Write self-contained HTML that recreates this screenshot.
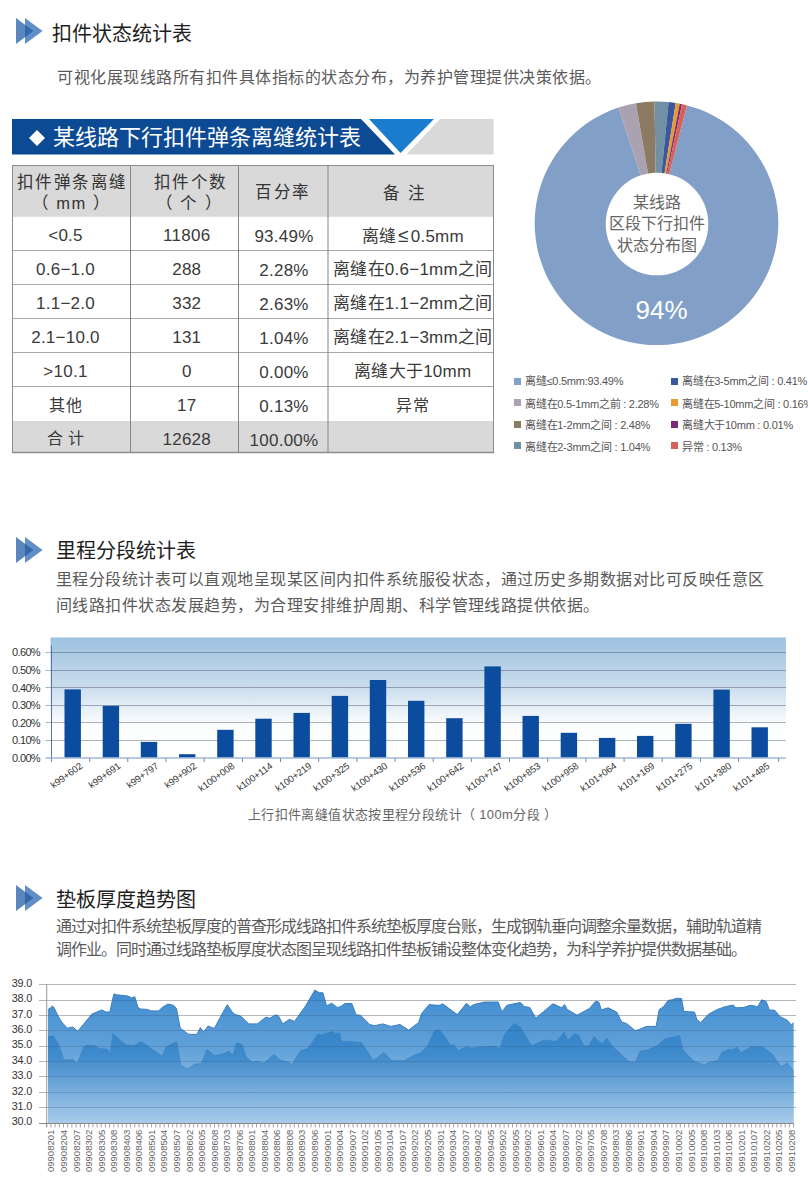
<!DOCTYPE html>
<html lang="zh-CN"><head><meta charset="utf-8">
<style>
html,body{margin:0;padding:0;background:#fff;width:808px;height:1200px;overflow:hidden;position:relative}
body{font-family:"Liberation Sans", sans-serif}
.t{position:absolute;white-space:nowrap;line-height:1.2}
.c{position:absolute;white-space:nowrap;text-align:center}
svg{display:block}
</style></head><body>
<svg style="position:absolute;left:16px;top:18px" width="30" height="28" viewBox="0 0 30 28">
<path d="M0 0 L17.3 13 L0 26 Z" fill="#5b87be"/>
<path d="M9 0 L26.6 13 L9 26 Z" fill="#5f8fc6"/>
<path d="M9 6.76 L17.3 13 L9 19.24 Z" fill="#2f68ab"/>
</svg>
<div class="t" style="left:52px;top:21.5px;font-size:20px;color:#1e1e1e">扣件状态统计表</div>
<div class="t" style="left:57px;top:68px;font-size:16px;color:#5a5a5a;letter-spacing:0.5px">可视化展现线路所有扣件具体指标的状态分布，为养护管理提供决策依据。</div>
<svg style="position:absolute;left:0;top:0" width="808" height="170">
<polygon points="12,119 361,119 395,154.5 12,154.5" fill="#0d4a94"/>
<polygon points="369,119 434,119 400.5,153" fill="#1a7ccc"/>
<polygon points="440,119 493.5,119 493.5,154.5 406.5,154.5" fill="#d9d9d9"/>
</svg>
<svg style="position:absolute;left:0;top:0" width="60" height="160"><polygon points="37,130 45,138 37,146 29,138" fill="#fff"/></svg>
<div class="t" style="left:53px;top:125px;font-size:22px;color:#fff">某线路下行扣件弹条离缝统计表</div>
<svg style="position:absolute;left:0;top:0" width="808" height="470">
<rect x="12" y="165" width="482" height="51.8" fill="#d9d9d9"/>
<rect x="12" y="421" width="482" height="32" fill="#d9d9d9"/>
<line x1="12" x2="494" y1="250.5" y2="250.5" stroke="#a8a8a8" stroke-width="1"/>
<line x1="12" x2="494" y1="284.5" y2="284.5" stroke="#a8a8a8" stroke-width="1"/>
<line x1="12" x2="494" y1="318.5" y2="318.5" stroke="#a8a8a8" stroke-width="1"/>
<line x1="12" x2="494" y1="352.5" y2="352.5" stroke="#a8a8a8" stroke-width="1"/>
<line x1="12" x2="494" y1="386.5" y2="386.5" stroke="#a8a8a8" stroke-width="1"/>
<line x1="130.5" x2="130.5" y1="165" y2="453" stroke="#858585" stroke-width="1"/>
<line x1="238.5" x2="238.5" y1="165" y2="453" stroke="#858585" stroke-width="1"/>
<line x1="328" x2="328" y1="165" y2="453" stroke="#858585" stroke-width="1"/>
<rect x="12.5" y="165.5" width="481" height="287" fill="none" stroke="#8c8c8c" stroke-width="1"/>
<line x1="12" x2="494" y1="452.5" y2="452.5" stroke="#8c8c8c" stroke-width="1.5"/>
</svg>
<div class="c" style="left:12px;width:119px;top:172px;font-size:16.5px;line-height:21px;color:#333;letter-spacing:1.5px;text-indent:1.5px;line-height:20.5px">扣件弹条离缝<br>（ mm ）</div>
<div class="c" style="left:136px;width:107.5px;top:172px;font-size:16.5px;line-height:21px;color:#333;letter-spacing:1.5px;text-indent:1.5px;line-height:20.5px">扣件个数<br>（ 个 ）</div>
<div class="c" style="left:237.5px;width:89.0px;top:181.5px;font-size:16.5px;line-height:21px;color:#333;letter-spacing:1.5px;text-indent:1.5px">百分率</div>
<div class="c" style="left:320.5px;width:166.5px;top:182.5px;font-size:16.5px;line-height:21px;color:#333;letter-spacing:1.5px;text-indent:1.5px">备 注</div>
<div class="c" style="left:6px;width:119px;top:225.0px;font-size:17px;line-height:22px;color:#3a3a3a;letter-spacing:0.25px;">&lt;0.5</div>
<div class="c" style="left:133px;width:107.5px;top:225.0px;font-size:17px;line-height:22px;color:#3a3a3a;letter-spacing:0.25px;">11806</div>
<div class="c" style="left:239.5px;width:89.0px;top:225.5px;font-size:17px;line-height:22px;color:#3a3a3a;letter-spacing:0.25px;">93.49%</div>
<div class="c" style="left:329.5px;width:166.5px;top:225.0px;font-size:17px;line-height:22px;color:#3a3a3a;letter-spacing:0.25px;">离缝<span style="margin:0 2px;font-size:19px">≤</span>0.5mm</div>
<div class="c" style="left:6px;width:119px;top:259.0px;font-size:17px;line-height:22px;color:#3a3a3a;letter-spacing:0.25px;">0.6−1.0</div>
<div class="c" style="left:133px;width:107.5px;top:259.0px;font-size:17px;line-height:22px;color:#3a3a3a;letter-spacing:0.25px;">288</div>
<div class="c" style="left:239.5px;width:89.0px;top:259.5px;font-size:17px;line-height:22px;color:#3a3a3a;letter-spacing:0.25px;">2.28%</div>
<div class="c" style="left:329.5px;width:166.5px;top:259.0px;font-size:17px;line-height:22px;color:#3a3a3a;letter-spacing:0.25px;">离缝在0.6−1mm之间</div>
<div class="c" style="left:6px;width:119px;top:293.0px;font-size:17px;line-height:22px;color:#3a3a3a;letter-spacing:0.25px;">1.1−2.0</div>
<div class="c" style="left:133px;width:107.5px;top:293.0px;font-size:17px;line-height:22px;color:#3a3a3a;letter-spacing:0.25px;">332</div>
<div class="c" style="left:239.5px;width:89.0px;top:293.5px;font-size:17px;line-height:22px;color:#3a3a3a;letter-spacing:0.25px;">2.63%</div>
<div class="c" style="left:329.5px;width:166.5px;top:293.0px;font-size:17px;line-height:22px;color:#3a3a3a;letter-spacing:0.25px;">离缝在1.1−2mm之间</div>
<div class="c" style="left:6px;width:119px;top:327.0px;font-size:17px;line-height:22px;color:#3a3a3a;letter-spacing:0.25px;">2.1−10.0</div>
<div class="c" style="left:133px;width:107.5px;top:327.0px;font-size:17px;line-height:22px;color:#3a3a3a;letter-spacing:0.25px;">131</div>
<div class="c" style="left:239.5px;width:89.0px;top:327.5px;font-size:17px;line-height:22px;color:#3a3a3a;letter-spacing:0.25px;">1.04%</div>
<div class="c" style="left:329.5px;width:166.5px;top:327.0px;font-size:17px;line-height:22px;color:#3a3a3a;letter-spacing:0.25px;">离缝在2.1−3mm之间</div>
<div class="c" style="left:6px;width:119px;top:361.0px;font-size:17px;line-height:22px;color:#3a3a3a;letter-spacing:0.25px;">&gt;10.1</div>
<div class="c" style="left:133px;width:107.5px;top:361.0px;font-size:17px;line-height:22px;color:#3a3a3a;letter-spacing:0.25px;">0</div>
<div class="c" style="left:239.5px;width:89.0px;top:361.5px;font-size:17px;line-height:22px;color:#3a3a3a;letter-spacing:0.25px;">0.00%</div>
<div class="c" style="left:329.5px;width:166.5px;top:361.0px;font-size:17px;line-height:22px;color:#3a3a3a;letter-spacing:0.25px;">离缝大于10mm</div>
<div class="c" style="left:6px;width:119px;top:395.0px;font-size:17px;line-height:22px;color:#3a3a3a;letter-spacing:0.25px;letter-spacing:1.2px;text-indent:1.2px;font-size:16px;">其他</div>
<div class="c" style="left:133px;width:107.5px;top:395.0px;font-size:17px;line-height:22px;color:#3a3a3a;letter-spacing:0.25px;">17</div>
<div class="c" style="left:239.5px;width:89.0px;top:395.5px;font-size:17px;line-height:22px;color:#3a3a3a;letter-spacing:0.25px;">0.13%</div>
<div class="c" style="left:329.5px;width:166.5px;top:395.0px;font-size:17px;line-height:22px;color:#3a3a3a;letter-spacing:0.25px;letter-spacing:1.2px;text-indent:1.2px;font-size:16px;">异常</div>
<div class="c" style="left:6px;width:119px;top:429.0px;font-size:17px;line-height:22px;color:#3a3a3a;letter-spacing:0.25px;letter-spacing:4.5px;text-indent:4.5px;font-size:16px;margin-top:-1px;">合计</div>
<div class="c" style="left:133px;width:107.5px;top:429.0px;font-size:17px;line-height:22px;color:#3a3a3a;letter-spacing:0.25px;">12628</div>
<div class="c" style="left:239.5px;width:89.0px;top:429.5px;font-size:17px;line-height:22px;color:#3a3a3a;letter-spacing:0.25px;">100.00%</div>
<div class="c" style="left:329.5px;width:166.5px;top:429.0px;font-size:17px;line-height:22px;color:#3a3a3a;letter-spacing:0.25px;"></div>
<svg style="position:absolute;left:0;top:0" width="808" height="360">
<path d="M656.5 223.3 L687.00 105.38 A121.8 121.8 0 1 1 618.46 107.59 Z" fill="#829fc7"/>
<path d="M656.5 223.3 L618.46 107.59 A121.8 121.8 0 0 1 635.98 103.24 Z" fill="#aaa1b1"/>
<path d="M656.5 223.3 L635.98 103.24 A121.8 121.8 0 0 1 654.48 101.52 Z" fill="#8c7b62"/>
<path d="M656.5 223.3 L654.48 101.52 A121.8 121.8 0 0 1 668.60 102.10 Z" fill="#7290a4"/>
<path d="M656.5 223.3 L668.60 102.10 A121.8 121.8 0 0 1 675.76 103.03 Z" fill="#3b589f"/>
<path d="M656.5 223.3 L675.76 103.03 A121.8 121.8 0 0 1 679.74 103.74 Z" fill="#e89b2e"/>
<path d="M656.5 223.3 L679.74 103.74 A121.8 121.8 0 0 1 682.03 104.21 Z" fill="#782c78"/>
<path d="M656.5 223.3 L682.03 104.21 A121.8 121.8 0 0 1 687.00 105.38 Z" fill="#d6615b"/>
<circle cx="657" cy="224" r="51.3" fill="#fff"/>
</svg>
<div class="c" style="left:596.5px;width:120px;top:191.5px;font-size:16px;line-height:21.6px;color:#656565">某线路<br>区段下行扣件<br>状态分布图</div>
<div class="c" style="left:601.5px;width:120px;top:294.5px;font-size:26px;line-height:30px;color:#fff">94%</div>
<div style="position:absolute;left:514px;top:378px;width:7px;height:7px;background:#829fc7"></div>
<div class="t" style="left:525px;top:373px;font-size:11px;line-height:16px;color:#555;letter-spacing:-0.25px">离缝≤0.5mm:93.49%</div>
<div style="position:absolute;left:514px;top:399px;width:7px;height:7px;background:#aaa1b1"></div>
<div class="t" style="left:525px;top:396px;font-size:11px;line-height:16px;color:#555;letter-spacing:-0.25px">离缝在0.5-1mm之前 : 2.28%</div>
<div style="position:absolute;left:514px;top:420.5px;width:7px;height:7px;background:#8c7b62"></div>
<div class="t" style="left:525px;top:417.0px;font-size:11px;line-height:16px;color:#555;letter-spacing:-0.25px">离缝在1-2mm之间 : 2.48%</div>
<div style="position:absolute;left:514px;top:442px;width:7px;height:7px;background:#7290a4"></div>
<div class="t" style="left:525px;top:439px;font-size:11px;line-height:16px;color:#555;letter-spacing:-0.25px">离缝在2-3mm之间 : 1.04%</div>
<div style="position:absolute;left:671px;top:378px;width:7px;height:7px;background:#3b589f"></div>
<div class="t" style="left:682px;top:373px;font-size:11px;line-height:16px;color:#555;letter-spacing:-0.25px">离缝在3-5mm之间 : 0.41%</div>
<div style="position:absolute;left:671px;top:399px;width:7px;height:7px;background:#e89b2e"></div>
<div class="t" style="left:682px;top:396px;font-size:11px;line-height:16px;color:#555;letter-spacing:-0.25px">离缝在5-10mm之间 : 0.16%</div>
<div style="position:absolute;left:671px;top:420.5px;width:7px;height:7px;background:#782c78"></div>
<div class="t" style="left:682px;top:417.0px;font-size:11px;line-height:16px;color:#555;letter-spacing:-0.25px">离缝大于10mm : 0.01%</div>
<div style="position:absolute;left:671px;top:442px;width:7px;height:7px;background:#d6615b"></div>
<div class="t" style="left:682px;top:439px;font-size:11px;line-height:16px;color:#555;letter-spacing:-0.25px">异常 : 0.13%</div>
<svg style="position:absolute;left:16px;top:536.5px" width="30" height="28" viewBox="0 0 30 28">
<path d="M0 0 L17.3 13 L0 26 Z" fill="#5b87be"/>
<path d="M9 0 L26.6 13 L9 26 Z" fill="#5f8fc6"/>
<path d="M9 6.76 L17.3 13 L9 19.24 Z" fill="#2f68ab"/>
</svg>
<div class="t" style="left:56px;top:539px;font-size:20px;color:#1e1e1e">里程分段统计表</div>
<div class="t" style="left:56px;top:566.5px;font-size:16px;line-height:26px;color:#5a5a5a;letter-spacing:0.48px">里程分段统计表可以直观地呈现某区间内扣件系统服役状态，通过历史多期数据对比可反映任意区<br>间线路扣件状态发展趋势，为合理安排维护周期、科学管理线路提供依据。</div>
<svg style="position:absolute;left:0;top:600px" width="808" height="240" viewBox="0 600 808 240">
<defs><linearGradient id="bg" x1="0" y1="0" x2="0" y2="1"><stop offset="0" stop-color="#9cc2e0"/><stop offset="0.4" stop-color="#c9dcec"/><stop offset="0.72" stop-color="#fbfdfe"/><stop offset="1" stop-color="#ffffff"/></linearGradient></defs>
<rect x="50.5" y="637.5" width="735.5" height="120.5" fill="url(#bg)"/>
<line x1="45.5" x2="786" y1="652.5" y2="652.5" stroke="rgb(55,65,85)" stroke-opacity="0.4" stroke-width="1"/>
<line x1="45.5" x2="786" y1="670.5" y2="670.5" stroke="rgb(55,65,85)" stroke-opacity="0.4" stroke-width="1"/>
<line x1="45.5" x2="786" y1="687.5" y2="687.5" stroke="rgb(55,65,85)" stroke-opacity="0.4" stroke-width="1"/>
<line x1="45.5" x2="786" y1="705.5" y2="705.5" stroke="rgb(55,65,85)" stroke-opacity="0.4" stroke-width="1"/>
<line x1="45.5" x2="786" y1="722.5" y2="722.5" stroke="rgb(55,65,85)" stroke-opacity="0.4" stroke-width="1"/>
<line x1="45.5" x2="786" y1="740.5" y2="740.5" stroke="rgb(55,65,85)" stroke-opacity="0.4" stroke-width="1"/>
<rect x="64.5" y="689.4" width="16.4" height="68.3" fill="#0b4c9f"/>
<rect x="102.7" y="705.8" width="16.4" height="51.9" fill="#0b4c9f"/>
<rect x="140.8" y="741.9" width="16.4" height="15.8" fill="#0b4c9f"/>
<rect x="179.0" y="754.2" width="16.4" height="3.5" fill="#0b4c9f"/>
<rect x="217.2" y="729.8" width="16.4" height="27.9" fill="#0b4c9f"/>
<rect x="255.3" y="718.7" width="16.4" height="39.0" fill="#0b4c9f"/>
<rect x="293.5" y="712.9" width="16.4" height="44.8" fill="#0b4c9f"/>
<rect x="331.7" y="695.9" width="16.4" height="61.8" fill="#0b4c9f"/>
<rect x="369.8" y="680.0" width="16.4" height="77.7" fill="#0b4c9f"/>
<rect x="408.0" y="700.8" width="16.4" height="56.9" fill="#0b4c9f"/>
<rect x="446.2" y="718.2" width="16.4" height="39.5" fill="#0b4c9f"/>
<rect x="484.4" y="666.4" width="16.4" height="91.3" fill="#0b4c9f"/>
<rect x="522.5" y="715.9" width="16.4" height="41.8" fill="#0b4c9f"/>
<rect x="560.7" y="732.8" width="16.4" height="24.9" fill="#0b4c9f"/>
<rect x="598.9" y="737.9" width="16.4" height="19.8" fill="#0b4c9f"/>
<rect x="637.0" y="735.9" width="16.4" height="21.8" fill="#0b4c9f"/>
<rect x="675.2" y="723.8" width="16.4" height="33.9" fill="#0b4c9f"/>
<rect x="713.4" y="689.6" width="16.4" height="68.1" fill="#0b4c9f"/>
<rect x="751.5" y="727.3" width="16.4" height="30.4" fill="#0b4c9f"/>
<line x1="51.5" x2="51.5" y1="645.5" y2="761" stroke="#5573b0" stroke-width="1"/>
<line x1="45.5" x2="786" y1="758" y2="758" stroke="#9fb8d6" stroke-width="1.3"/>
<line x1="51.5" x2="51.5" y1="758" y2="762" stroke="#7a8aa0" stroke-width="1"/>
<line x1="89.7" x2="89.7" y1="758" y2="762" stroke="#7a8aa0" stroke-width="1"/>
<line x1="127.8" x2="127.8" y1="758" y2="762" stroke="#7a8aa0" stroke-width="1"/>
<line x1="166.0" x2="166.0" y1="758" y2="762" stroke="#7a8aa0" stroke-width="1"/>
<line x1="204.2" x2="204.2" y1="758" y2="762" stroke="#7a8aa0" stroke-width="1"/>
<line x1="242.4" x2="242.4" y1="758" y2="762" stroke="#7a8aa0" stroke-width="1"/>
<line x1="280.5" x2="280.5" y1="758" y2="762" stroke="#7a8aa0" stroke-width="1"/>
<line x1="318.7" x2="318.7" y1="758" y2="762" stroke="#7a8aa0" stroke-width="1"/>
<line x1="356.9" x2="356.9" y1="758" y2="762" stroke="#7a8aa0" stroke-width="1"/>
<line x1="395.0" x2="395.0" y1="758" y2="762" stroke="#7a8aa0" stroke-width="1"/>
<line x1="433.2" x2="433.2" y1="758" y2="762" stroke="#7a8aa0" stroke-width="1"/>
<line x1="471.4" x2="471.4" y1="758" y2="762" stroke="#7a8aa0" stroke-width="1"/>
<line x1="509.5" x2="509.5" y1="758" y2="762" stroke="#7a8aa0" stroke-width="1"/>
<line x1="547.7" x2="547.7" y1="758" y2="762" stroke="#7a8aa0" stroke-width="1"/>
<line x1="585.9" x2="585.9" y1="758" y2="762" stroke="#7a8aa0" stroke-width="1"/>
<line x1="624.1" x2="624.1" y1="758" y2="762" stroke="#7a8aa0" stroke-width="1"/>
<line x1="662.2" x2="662.2" y1="758" y2="762" stroke="#7a8aa0" stroke-width="1"/>
<line x1="700.4" x2="700.4" y1="758" y2="762" stroke="#7a8aa0" stroke-width="1"/>
<line x1="738.6" x2="738.6" y1="758" y2="762" stroke="#7a8aa0" stroke-width="1"/>
<line x1="778.7" x2="778.7" y1="758" y2="762" stroke="#7a8aa0" stroke-width="1"/>
</svg>
<div class="t" style="left:0;width:40px;text-align:right;top:750.7px;font-size:11px;line-height:14px;color:#333;letter-spacing:-0.65px">0.00%</div>
<div class="t" style="left:0;width:40px;text-align:right;top:733.2px;font-size:11px;line-height:14px;color:#333;letter-spacing:-0.65px">0.10%</div>
<div class="t" style="left:0;width:40px;text-align:right;top:715.6px;font-size:11px;line-height:14px;color:#333;letter-spacing:-0.65px">0.20%</div>
<div class="t" style="left:0;width:40px;text-align:right;top:698.0px;font-size:11px;line-height:14px;color:#333;letter-spacing:-0.65px">0.30%</div>
<div class="t" style="left:0;width:40px;text-align:right;top:680.5px;font-size:11px;line-height:14px;color:#333;letter-spacing:-0.65px">0.40%</div>
<div class="t" style="left:0;width:40px;text-align:right;top:663.0px;font-size:11px;line-height:14px;color:#333;letter-spacing:-0.65px">0.50%</div>
<div class="t" style="left:0;width:40px;text-align:right;top:645.4px;font-size:11px;line-height:14px;color:#333;letter-spacing:-0.65px">0.60%</div>
<div class="t" style="left:-122.4px;width:200px;text-align:right;top:759.5px;font-size:9.5px;line-height:12px;color:#333;transform-origin:100% 0;transform:rotate(-36deg)">k99+602</div>
<div class="t" style="left:-84.2px;width:200px;text-align:right;top:759.5px;font-size:9.5px;line-height:12px;color:#333;transform-origin:100% 0;transform:rotate(-36deg)">k99+691</div>
<div class="t" style="left:-46.1px;width:200px;text-align:right;top:759.5px;font-size:9.5px;line-height:12px;color:#333;transform-origin:100% 0;transform:rotate(-36deg)">k99+797</div>
<div class="t" style="left:-7.9px;width:200px;text-align:right;top:759.5px;font-size:9.5px;line-height:12px;color:#333;transform-origin:100% 0;transform:rotate(-36deg)">k99+902</div>
<div class="t" style="left:30.3px;width:200px;text-align:right;top:759.5px;font-size:9.5px;line-height:12px;color:#333;transform-origin:100% 0;transform:rotate(-36deg)">k100+008</div>
<div class="t" style="left:68.4px;width:200px;text-align:right;top:759.5px;font-size:9.5px;line-height:12px;color:#333;transform-origin:100% 0;transform:rotate(-36deg)">k100+114</div>
<div class="t" style="left:106.6px;width:200px;text-align:right;top:759.5px;font-size:9.5px;line-height:12px;color:#333;transform-origin:100% 0;transform:rotate(-36deg)">k100+219</div>
<div class="t" style="left:144.8px;width:200px;text-align:right;top:759.5px;font-size:9.5px;line-height:12px;color:#333;transform-origin:100% 0;transform:rotate(-36deg)">k100+325</div>
<div class="t" style="left:182.9px;width:200px;text-align:right;top:759.5px;font-size:9.5px;line-height:12px;color:#333;transform-origin:100% 0;transform:rotate(-36deg)">k100+430</div>
<div class="t" style="left:221.1px;width:200px;text-align:right;top:759.5px;font-size:9.5px;line-height:12px;color:#333;transform-origin:100% 0;transform:rotate(-36deg)">k100+536</div>
<div class="t" style="left:259.3px;width:200px;text-align:right;top:759.5px;font-size:9.5px;line-height:12px;color:#333;transform-origin:100% 0;transform:rotate(-36deg)">k100+642</div>
<div class="t" style="left:297.5px;width:200px;text-align:right;top:759.5px;font-size:9.5px;line-height:12px;color:#333;transform-origin:100% 0;transform:rotate(-36deg)">k100+747</div>
<div class="t" style="left:335.6px;width:200px;text-align:right;top:759.5px;font-size:9.5px;line-height:12px;color:#333;transform-origin:100% 0;transform:rotate(-36deg)">k100+853</div>
<div class="t" style="left:373.8px;width:200px;text-align:right;top:759.5px;font-size:9.5px;line-height:12px;color:#333;transform-origin:100% 0;transform:rotate(-36deg)">k100+958</div>
<div class="t" style="left:412.0px;width:200px;text-align:right;top:759.5px;font-size:9.5px;line-height:12px;color:#333;transform-origin:100% 0;transform:rotate(-36deg)">k101+064</div>
<div class="t" style="left:450.1px;width:200px;text-align:right;top:759.5px;font-size:9.5px;line-height:12px;color:#333;transform-origin:100% 0;transform:rotate(-36deg)">k101+169</div>
<div class="t" style="left:488.3px;width:200px;text-align:right;top:759.5px;font-size:9.5px;line-height:12px;color:#333;transform-origin:100% 0;transform:rotate(-36deg)">k101+275</div>
<div class="t" style="left:526.5px;width:200px;text-align:right;top:759.5px;font-size:9.5px;line-height:12px;color:#333;transform-origin:100% 0;transform:rotate(-36deg)">k101+380</div>
<div class="t" style="left:564.6px;width:200px;text-align:right;top:759.5px;font-size:9.5px;line-height:12px;color:#333;transform-origin:100% 0;transform:rotate(-36deg)">k101+485</div>
<div class="t" style="left:248px;top:807px;font-size:13px;line-height:16px;color:#666;letter-spacing:0.37px">上行扣件离缝值状态按里程分段统计（ 100m分段 ）</div>
<svg style="position:absolute;left:16px;top:884.5px" width="30" height="28" viewBox="0 0 30 28">
<path d="M0 0 L17.3 13 L0 26 Z" fill="#5b87be"/>
<path d="M9 0 L26.6 13 L9 26 Z" fill="#5f8fc6"/>
<path d="M9 6.76 L17.3 13 L9 19.24 Z" fill="#2f68ab"/>
</svg>
<div class="t" style="left:56px;top:887.5px;font-size:20px;color:#1e1e1e">垫板厚度趋势图</div>
<div class="t" style="left:56px;top:915px;font-size:16px;line-height:23px;color:#5a5a5a;letter-spacing:-1px">通过对扣件系统垫板厚度的普查形成线路扣件系统垫板厚度台账，生成钢轨垂向调整余量数据，辅助轨道精<br>调作业。同时通过线路垫板厚度状态图呈现线路扣件垫板铺设整体变化趋势，为科学养护提供数据基础。</div>
<svg style="position:absolute;left:0;top:960px" width="808" height="240" viewBox="0 960 808 240">
<defs>
<linearGradient id="ga" gradientUnits="userSpaceOnUse" x1="0" y1="990" x2="0" y2="1123"><stop offset="0" stop-color="#3f8cd0"/><stop offset="0.45" stop-color="#62a2d9"/><stop offset="1" stop-color="#b3d2ec"/></linearGradient>
<linearGradient id="gb" gradientUnits="userSpaceOnUse" x1="0" y1="1020" x2="0" y2="1123"><stop offset="0" stop-color="#2f82c8"/><stop offset="0.35" stop-color="#3f8bcc"/><stop offset="1" stop-color="#a9cbea"/></linearGradient>
</defs>
<line x1="39" x2="796" y1="984.5" y2="984.5" stroke="#d6d6d6" stroke-width="1"/>
<line x1="39" x2="796" y1="1000.5" y2="1000.5" stroke="#d6d6d6" stroke-width="1"/>
<line x1="39" x2="796" y1="1015.5" y2="1015.5" stroke="#d6d6d6" stroke-width="1"/>
<line x1="39" x2="796" y1="1030.5" y2="1030.5" stroke="#d6d6d6" stroke-width="1"/>
<line x1="39" x2="796" y1="1046.5" y2="1046.5" stroke="#d6d6d6" stroke-width="1"/>
<line x1="39" x2="796" y1="1061.5" y2="1061.5" stroke="#d6d6d6" stroke-width="1"/>
<line x1="39" x2="796" y1="1076.5" y2="1076.5" stroke="#d6d6d6" stroke-width="1"/>
<line x1="39" x2="796" y1="1092.5" y2="1092.5" stroke="#d6d6d6" stroke-width="1"/>
<line x1="39" x2="796" y1="1107.5" y2="1107.5" stroke="#d6d6d6" stroke-width="1"/>
<path d="M48.0 1123 L48.0 1009.7 L52.4 1006.2 L53.6 1006.9 L58.6 1017.1 L61.7 1022.0 L67.2 1028.2 L72.8 1027.0 L77.7 1031.3 L83.3 1024.5 L92.0 1014.0 L101.9 1009.9 L106.2 1012.1 L109.9 1011.9 L111.8 1002.8 L114.0 993.8 L116.1 994.8 L127.9 996.0 L131.6 997.9 L134.7 996.7 L137.8 1006.6 L140.0 1009.0 L147.4 1009.4 L151.1 1010.9 L158.6 1010.9 L162.3 1007.4 L167.8 1004.1 L173.4 1005.3 L176.5 1008.4 L180.2 1028.2 L188.3 1034.2 L196.9 1034.4 L200.4 1027.6 L203.4 1032.2 L208.1 1026.0 L214.3 1028.5 L220.4 1017.1 L227.3 1004.7 L232.2 1012.1 L235.3 1014.6 L240.0 1015.8 L242.5 1017.7 L248.7 1023.9 L257.3 1023.9 L266.0 1017.1 L269.7 1018.3 L275.3 1014.9 L278.4 1015.8 L282.7 1023.9 L289.5 1019.3 L294.5 1021.4 L305.6 1005.9 L314.9 990.1 L319.2 992.7 L322.9 992.7 L326.6 1005.9 L331.6 1003.2 L337.2 1007.4 L340.0 1006.9 L345.0 1003.5 L351.8 1003.5 L356.1 1014.9 L360.4 1015.2 L369.7 1024.5 L374.7 1025.7 L382.7 1023.9 L390.7 1026.4 L400.0 1024.5 L408.7 1030.1 L418.6 1022.6 L421.7 1013.4 L429.1 1004.5 L434.1 1005.1 L440.0 1005.3 L442.5 1003.7 L457.3 1014.6 L466.6 1003.2 L470.3 1006.9 L473.4 1004.7 L484.6 1002.0 L498.2 1002.0 L501.9 1011.9 L506.8 1005.3 L520.4 1002.5 L524.2 1006.6 L529.7 1007.4 L535.9 1018.3 L540.0 1014.4 L543.7 1011.5 L553.0 1003.7 L561.7 1007.8 L564.5 1004.5 L567.2 1009.4 L577.1 1015.2 L589.5 1008.4 L595.7 1001.2 L598.8 1002.0 L601.3 1009.9 L608.1 1007.8 L616.7 1012.1 L621.7 1022.0 L626.6 1023.5 L635.3 1030.7 L640.0 1029.2 L646.2 1026.4 L656.1 1026.4 L659.2 1009.7 L663.5 1006.6 L668.2 1000.4 L672.2 999.8 L676.5 998.3 L681.5 998.5 L683.9 1011.5 L694.5 1012.1 L696.9 1019.6 L700.6 1022.6 L708.1 1014.6 L716.7 1009.7 L725.4 1006.6 L733.4 1005.1 L735.9 1007.8 L743.9 1007.4 L750.1 1005.3 L754.4 1005.9 L757.5 1006.9 L761.8 999.8 L766.2 1001.6 L769.3 1009.9 L774.8 1010.3 L779.8 1016.5 L787.2 1020.2 L791.5 1025.1 L793.6 1022.6 L793.6 1123 Z" fill="url(#ga)"/>
<path d="M48.0 1123 L48.0 1035.6 L49.3 1036.3 L53.6 1036.0 L58.6 1044.3 L64.1 1060.1 L72.8 1059.2 L77.1 1063.5 L83.9 1046.5 L87.0 1045.3 L94.5 1045.5 L99.4 1048.6 L107.5 1049.0 L109.9 1054.2 L113.0 1033.2 L120.4 1040.6 L126.6 1044.9 L134.0 1045.5 L140.0 1041.8 L143.7 1043.1 L148.7 1046.5 L161.7 1056.1 L166.6 1046.8 L172.2 1043.4 L176.9 1041.8 L180.8 1065.3 L187.6 1069.1 L194.5 1064.1 L201.3 1063.5 L206.8 1049.3 L214.3 1055.4 L221.7 1054.2 L229.1 1051.1 L232.8 1055.4 L236.5 1042.5 L240.0 1043.7 L241.9 1044.3 L246.2 1056.7 L252.4 1062.3 L257.3 1061.0 L264.1 1063.1 L274.0 1054.2 L280.8 1060.4 L289.5 1062.3 L291.4 1065.3 L300.6 1050.5 L307.5 1048.6 L318.0 1033.8 L321.7 1035.0 L331.6 1031.3 L335.3 1033.2 L340.0 1033.2 L341.2 1041.2 L352.4 1041.8 L361.7 1042.5 L373.4 1060.4 L383.9 1052.4 L392.0 1060.6 L404.4 1060.4 L413.0 1055.4 L420.4 1053.0 L427.9 1045.5 L434.1 1030.7 L440.0 1030.1 L451.1 1045.5 L453.6 1044.3 L458.6 1050.5 L466.0 1046.8 L470.9 1048.0 L482.1 1046.8 L495.7 1046.2 L499.4 1049.0 L504.4 1034.4 L514.3 1023.3 L520.4 1027.0 L531.6 1045.5 L540.0 1041.8 L545.0 1040.0 L556.1 1041.2 L564.1 1032.2 L567.8 1040.0 L574.7 1033.4 L579.0 1035.6 L583.9 1045.8 L588.9 1045.8 L593.8 1036.3 L601.9 1043.7 L606.8 1038.1 L614.3 1048.0 L629.1 1061.6 L635.3 1062.3 L640.0 1051.1 L647.4 1049.9 L657.3 1045.5 L664.8 1038.7 L679.6 1035.6 L683.3 1050.5 L694.5 1061.6 L704.4 1064.7 L709.3 1062.3 L718.0 1060.4 L721.6 1052.4 L727.8 1049.5 L734.0 1049.3 L737.1 1046.8 L740.8 1052.4 L751.3 1046.8 L762.5 1046.8 L772.4 1054.2 L781.0 1066.6 L787.2 1063.1 L793.6 1070.9 L793.6 1123 Z" fill="url(#gb)"/>
<path d="M48.0 1009.7 L52.4 1006.2 L53.6 1006.9 L58.6 1017.1 L61.7 1022.0 L67.2 1028.2 L72.8 1027.0 L77.7 1031.3 L83.3 1024.5 L92.0 1014.0 L101.9 1009.9 L106.2 1012.1 L109.9 1011.9 L111.8 1002.8 L114.0 993.8 L116.1 994.8 L127.9 996.0 L131.6 997.9 L134.7 996.7 L137.8 1006.6 L140.0 1009.0 L147.4 1009.4 L151.1 1010.9 L158.6 1010.9 L162.3 1007.4 L167.8 1004.1 L173.4 1005.3 L176.5 1008.4 L180.2 1028.2 L188.3 1034.2 L196.9 1034.4 L200.4 1027.6 L203.4 1032.2 L208.1 1026.0 L214.3 1028.5 L220.4 1017.1 L227.3 1004.7 L232.2 1012.1 L235.3 1014.6 L240.0 1015.8 L242.5 1017.7 L248.7 1023.9 L257.3 1023.9 L266.0 1017.1 L269.7 1018.3 L275.3 1014.9 L278.4 1015.8 L282.7 1023.9 L289.5 1019.3 L294.5 1021.4 L305.6 1005.9 L314.9 990.1 L319.2 992.7 L322.9 992.7 L326.6 1005.9 L331.6 1003.2 L337.2 1007.4 L340.0 1006.9 L345.0 1003.5 L351.8 1003.5 L356.1 1014.9 L360.4 1015.2 L369.7 1024.5 L374.7 1025.7 L382.7 1023.9 L390.7 1026.4 L400.0 1024.5 L408.7 1030.1 L418.6 1022.6 L421.7 1013.4 L429.1 1004.5 L434.1 1005.1 L440.0 1005.3 L442.5 1003.7 L457.3 1014.6 L466.6 1003.2 L470.3 1006.9 L473.4 1004.7 L484.6 1002.0 L498.2 1002.0 L501.9 1011.9 L506.8 1005.3 L520.4 1002.5 L524.2 1006.6 L529.7 1007.4 L535.9 1018.3 L540.0 1014.4 L543.7 1011.5 L553.0 1003.7 L561.7 1007.8 L564.5 1004.5 L567.2 1009.4 L577.1 1015.2 L589.5 1008.4 L595.7 1001.2 L598.8 1002.0 L601.3 1009.9 L608.1 1007.8 L616.7 1012.1 L621.7 1022.0 L626.6 1023.5 L635.3 1030.7 L640.0 1029.2 L646.2 1026.4 L656.1 1026.4 L659.2 1009.7 L663.5 1006.6 L668.2 1000.4 L672.2 999.8 L676.5 998.3 L681.5 998.5 L683.9 1011.5 L694.5 1012.1 L696.9 1019.6 L700.6 1022.6 L708.1 1014.6 L716.7 1009.7 L725.4 1006.6 L733.4 1005.1 L735.9 1007.8 L743.9 1007.4 L750.1 1005.3 L754.4 1005.9 L757.5 1006.9 L761.8 999.8 L766.2 1001.6 L769.3 1009.9 L774.8 1010.3 L779.8 1016.5 L787.2 1020.2 L791.5 1025.1 L793.6 1022.6" fill="none" stroke="#3a7ec0" stroke-width="1"/>
<path d="M48.0 1035.6 L49.3 1036.3 L53.6 1036.0 L58.6 1044.3 L64.1 1060.1 L72.8 1059.2 L77.1 1063.5 L83.9 1046.5 L87.0 1045.3 L94.5 1045.5 L99.4 1048.6 L107.5 1049.0 L109.9 1054.2 L113.0 1033.2 L120.4 1040.6 L126.6 1044.9 L134.0 1045.5 L140.0 1041.8 L143.7 1043.1 L148.7 1046.5 L161.7 1056.1 L166.6 1046.8 L172.2 1043.4 L176.9 1041.8 L180.8 1065.3 L187.6 1069.1 L194.5 1064.1 L201.3 1063.5 L206.8 1049.3 L214.3 1055.4 L221.7 1054.2 L229.1 1051.1 L232.8 1055.4 L236.5 1042.5 L240.0 1043.7 L241.9 1044.3 L246.2 1056.7 L252.4 1062.3 L257.3 1061.0 L264.1 1063.1 L274.0 1054.2 L280.8 1060.4 L289.5 1062.3 L291.4 1065.3 L300.6 1050.5 L307.5 1048.6 L318.0 1033.8 L321.7 1035.0 L331.6 1031.3 L335.3 1033.2 L340.0 1033.2 L341.2 1041.2 L352.4 1041.8 L361.7 1042.5 L373.4 1060.4 L383.9 1052.4 L392.0 1060.6 L404.4 1060.4 L413.0 1055.4 L420.4 1053.0 L427.9 1045.5 L434.1 1030.7 L440.0 1030.1 L451.1 1045.5 L453.6 1044.3 L458.6 1050.5 L466.0 1046.8 L470.9 1048.0 L482.1 1046.8 L495.7 1046.2 L499.4 1049.0 L504.4 1034.4 L514.3 1023.3 L520.4 1027.0 L531.6 1045.5 L540.0 1041.8 L545.0 1040.0 L556.1 1041.2 L564.1 1032.2 L567.8 1040.0 L574.7 1033.4 L579.0 1035.6 L583.9 1045.8 L588.9 1045.8 L593.8 1036.3 L601.9 1043.7 L606.8 1038.1 L614.3 1048.0 L629.1 1061.6 L635.3 1062.3 L640.0 1051.1 L647.4 1049.9 L657.3 1045.5 L664.8 1038.7 L679.6 1035.6 L683.3 1050.5 L694.5 1061.6 L704.4 1064.7 L709.3 1062.3 L718.0 1060.4 L721.6 1052.4 L727.8 1049.5 L734.0 1049.3 L737.1 1046.8 L740.8 1052.4 L751.3 1046.8 L762.5 1046.8 L772.4 1054.2 L781.0 1066.6 L787.2 1063.1 L793.6 1070.9" fill="none" stroke="#3a7ec0" stroke-width="0.8" stroke-opacity="0.6"/>
<line x1="39" x2="796" y1="984.5" y2="984.5" stroke="rgb(40,55,80)" stroke-opacity="0.19" stroke-width="1"/>
<line x1="39" x2="796" y1="1000.5" y2="1000.5" stroke="rgb(40,55,80)" stroke-opacity="0.19" stroke-width="1"/>
<line x1="39" x2="796" y1="1015.5" y2="1015.5" stroke="rgb(40,55,80)" stroke-opacity="0.19" stroke-width="1"/>
<line x1="39" x2="796" y1="1030.5" y2="1030.5" stroke="rgb(40,55,80)" stroke-opacity="0.19" stroke-width="1"/>
<line x1="39" x2="796" y1="1046.5" y2="1046.5" stroke="rgb(40,55,80)" stroke-opacity="0.19" stroke-width="1"/>
<line x1="39" x2="796" y1="1061.5" y2="1061.5" stroke="rgb(40,55,80)" stroke-opacity="0.19" stroke-width="1"/>
<line x1="39" x2="796" y1="1076.5" y2="1076.5" stroke="rgb(40,55,80)" stroke-opacity="0.19" stroke-width="1"/>
<line x1="39" x2="796" y1="1092.5" y2="1092.5" stroke="rgb(40,55,80)" stroke-opacity="0.19" stroke-width="1"/>
<line x1="39" x2="796" y1="1107.5" y2="1107.5" stroke="rgb(40,55,80)" stroke-opacity="0.19" stroke-width="1"/>
<line x1="46.7" x2="46.7" y1="984" y2="1127" stroke="#999" stroke-width="1"/>
<line x1="39" x2="794" y1="1123.5" y2="1123.5" stroke="#888" stroke-width="1"/>
<line x1="46.7" x2="46.7" y1="1123.5" y2="1127.5" stroke="#999" stroke-width="0.9"/>
<line x1="50.9" x2="50.9" y1="1123.5" y2="1127.5" stroke="#999" stroke-width="0.9"/>
<line x1="55.1" x2="55.1" y1="1123.5" y2="1127.5" stroke="#999" stroke-width="0.9"/>
<line x1="59.3" x2="59.3" y1="1123.5" y2="1127.5" stroke="#999" stroke-width="0.9"/>
<line x1="63.5" x2="63.5" y1="1123.5" y2="1127.5" stroke="#999" stroke-width="0.9"/>
<line x1="67.7" x2="67.7" y1="1123.5" y2="1127.5" stroke="#999" stroke-width="0.9"/>
<line x1="71.9" x2="71.9" y1="1123.5" y2="1127.5" stroke="#999" stroke-width="0.9"/>
<line x1="76.1" x2="76.1" y1="1123.5" y2="1127.5" stroke="#999" stroke-width="0.9"/>
<line x1="80.3" x2="80.3" y1="1123.5" y2="1127.5" stroke="#999" stroke-width="0.9"/>
<line x1="84.5" x2="84.5" y1="1123.5" y2="1127.5" stroke="#999" stroke-width="0.9"/>
<line x1="88.7" x2="88.7" y1="1123.5" y2="1127.5" stroke="#999" stroke-width="0.9"/>
<line x1="92.9" x2="92.9" y1="1123.5" y2="1127.5" stroke="#999" stroke-width="0.9"/>
<line x1="97.1" x2="97.1" y1="1123.5" y2="1127.5" stroke="#999" stroke-width="0.9"/>
<line x1="101.2" x2="101.2" y1="1123.5" y2="1127.5" stroke="#999" stroke-width="0.9"/>
<line x1="105.4" x2="105.4" y1="1123.5" y2="1127.5" stroke="#999" stroke-width="0.9"/>
<line x1="109.6" x2="109.6" y1="1123.5" y2="1127.5" stroke="#999" stroke-width="0.9"/>
<line x1="113.8" x2="113.8" y1="1123.5" y2="1127.5" stroke="#999" stroke-width="0.9"/>
<line x1="118.0" x2="118.0" y1="1123.5" y2="1127.5" stroke="#999" stroke-width="0.9"/>
<line x1="122.2" x2="122.2" y1="1123.5" y2="1127.5" stroke="#999" stroke-width="0.9"/>
<line x1="126.4" x2="126.4" y1="1123.5" y2="1127.5" stroke="#999" stroke-width="0.9"/>
<line x1="130.6" x2="130.6" y1="1123.5" y2="1127.5" stroke="#999" stroke-width="0.9"/>
<line x1="134.8" x2="134.8" y1="1123.5" y2="1127.5" stroke="#999" stroke-width="0.9"/>
<line x1="139.0" x2="139.0" y1="1123.5" y2="1127.5" stroke="#999" stroke-width="0.9"/>
<line x1="143.2" x2="143.2" y1="1123.5" y2="1127.5" stroke="#999" stroke-width="0.9"/>
<line x1="147.4" x2="147.4" y1="1123.5" y2="1127.5" stroke="#999" stroke-width="0.9"/>
<line x1="151.6" x2="151.6" y1="1123.5" y2="1127.5" stroke="#999" stroke-width="0.9"/>
<line x1="155.8" x2="155.8" y1="1123.5" y2="1127.5" stroke="#999" stroke-width="0.9"/>
<line x1="160.0" x2="160.0" y1="1123.5" y2="1127.5" stroke="#999" stroke-width="0.9"/>
<line x1="164.2" x2="164.2" y1="1123.5" y2="1127.5" stroke="#999" stroke-width="0.9"/>
<line x1="168.4" x2="168.4" y1="1123.5" y2="1127.5" stroke="#999" stroke-width="0.9"/>
<line x1="172.6" x2="172.6" y1="1123.5" y2="1127.5" stroke="#999" stroke-width="0.9"/>
<line x1="176.8" x2="176.8" y1="1123.5" y2="1127.5" stroke="#999" stroke-width="0.9"/>
<line x1="181.0" x2="181.0" y1="1123.5" y2="1127.5" stroke="#999" stroke-width="0.9"/>
<line x1="185.2" x2="185.2" y1="1123.5" y2="1127.5" stroke="#999" stroke-width="0.9"/>
<line x1="189.4" x2="189.4" y1="1123.5" y2="1127.5" stroke="#999" stroke-width="0.9"/>
<line x1="193.6" x2="193.6" y1="1123.5" y2="1127.5" stroke="#999" stroke-width="0.9"/>
<line x1="197.8" x2="197.8" y1="1123.5" y2="1127.5" stroke="#999" stroke-width="0.9"/>
<line x1="202.0" x2="202.0" y1="1123.5" y2="1127.5" stroke="#999" stroke-width="0.9"/>
<line x1="206.2" x2="206.2" y1="1123.5" y2="1127.5" stroke="#999" stroke-width="0.9"/>
<line x1="210.3" x2="210.3" y1="1123.5" y2="1127.5" stroke="#999" stroke-width="0.9"/>
<line x1="214.5" x2="214.5" y1="1123.5" y2="1127.5" stroke="#999" stroke-width="0.9"/>
<line x1="218.7" x2="218.7" y1="1123.5" y2="1127.5" stroke="#999" stroke-width="0.9"/>
<line x1="222.9" x2="222.9" y1="1123.5" y2="1127.5" stroke="#999" stroke-width="0.9"/>
<line x1="227.1" x2="227.1" y1="1123.5" y2="1127.5" stroke="#999" stroke-width="0.9"/>
<line x1="231.3" x2="231.3" y1="1123.5" y2="1127.5" stroke="#999" stroke-width="0.9"/>
<line x1="235.5" x2="235.5" y1="1123.5" y2="1127.5" stroke="#999" stroke-width="0.9"/>
<line x1="239.7" x2="239.7" y1="1123.5" y2="1127.5" stroke="#999" stroke-width="0.9"/>
<line x1="243.9" x2="243.9" y1="1123.5" y2="1127.5" stroke="#999" stroke-width="0.9"/>
<line x1="248.1" x2="248.1" y1="1123.5" y2="1127.5" stroke="#999" stroke-width="0.9"/>
<line x1="252.3" x2="252.3" y1="1123.5" y2="1127.5" stroke="#999" stroke-width="0.9"/>
<line x1="256.5" x2="256.5" y1="1123.5" y2="1127.5" stroke="#999" stroke-width="0.9"/>
<line x1="260.7" x2="260.7" y1="1123.5" y2="1127.5" stroke="#999" stroke-width="0.9"/>
<line x1="264.9" x2="264.9" y1="1123.5" y2="1127.5" stroke="#999" stroke-width="0.9"/>
<line x1="269.1" x2="269.1" y1="1123.5" y2="1127.5" stroke="#999" stroke-width="0.9"/>
<line x1="273.3" x2="273.3" y1="1123.5" y2="1127.5" stroke="#999" stroke-width="0.9"/>
<line x1="277.5" x2="277.5" y1="1123.5" y2="1127.5" stroke="#999" stroke-width="0.9"/>
<line x1="281.7" x2="281.7" y1="1123.5" y2="1127.5" stroke="#999" stroke-width="0.9"/>
<line x1="285.9" x2="285.9" y1="1123.5" y2="1127.5" stroke="#999" stroke-width="0.9"/>
<line x1="290.1" x2="290.1" y1="1123.5" y2="1127.5" stroke="#999" stroke-width="0.9"/>
<line x1="294.3" x2="294.3" y1="1123.5" y2="1127.5" stroke="#999" stroke-width="0.9"/>
<line x1="298.5" x2="298.5" y1="1123.5" y2="1127.5" stroke="#999" stroke-width="0.9"/>
<line x1="302.7" x2="302.7" y1="1123.5" y2="1127.5" stroke="#999" stroke-width="0.9"/>
<line x1="306.9" x2="306.9" y1="1123.5" y2="1127.5" stroke="#999" stroke-width="0.9"/>
<line x1="311.1" x2="311.1" y1="1123.5" y2="1127.5" stroke="#999" stroke-width="0.9"/>
<line x1="315.2" x2="315.2" y1="1123.5" y2="1127.5" stroke="#999" stroke-width="0.9"/>
<line x1="319.4" x2="319.4" y1="1123.5" y2="1127.5" stroke="#999" stroke-width="0.9"/>
<line x1="323.6" x2="323.6" y1="1123.5" y2="1127.5" stroke="#999" stroke-width="0.9"/>
<line x1="327.8" x2="327.8" y1="1123.5" y2="1127.5" stroke="#999" stroke-width="0.9"/>
<line x1="332.0" x2="332.0" y1="1123.5" y2="1127.5" stroke="#999" stroke-width="0.9"/>
<line x1="336.2" x2="336.2" y1="1123.5" y2="1127.5" stroke="#999" stroke-width="0.9"/>
<line x1="340.4" x2="340.4" y1="1123.5" y2="1127.5" stroke="#999" stroke-width="0.9"/>
<line x1="344.6" x2="344.6" y1="1123.5" y2="1127.5" stroke="#999" stroke-width="0.9"/>
<line x1="348.8" x2="348.8" y1="1123.5" y2="1127.5" stroke="#999" stroke-width="0.9"/>
<line x1="353.0" x2="353.0" y1="1123.5" y2="1127.5" stroke="#999" stroke-width="0.9"/>
<line x1="357.2" x2="357.2" y1="1123.5" y2="1127.5" stroke="#999" stroke-width="0.9"/>
<line x1="361.4" x2="361.4" y1="1123.5" y2="1127.5" stroke="#999" stroke-width="0.9"/>
<line x1="365.6" x2="365.6" y1="1123.5" y2="1127.5" stroke="#999" stroke-width="0.9"/>
<line x1="369.8" x2="369.8" y1="1123.5" y2="1127.5" stroke="#999" stroke-width="0.9"/>
<line x1="374.0" x2="374.0" y1="1123.5" y2="1127.5" stroke="#999" stroke-width="0.9"/>
<line x1="378.2" x2="378.2" y1="1123.5" y2="1127.5" stroke="#999" stroke-width="0.9"/>
<line x1="382.4" x2="382.4" y1="1123.5" y2="1127.5" stroke="#999" stroke-width="0.9"/>
<line x1="386.6" x2="386.6" y1="1123.5" y2="1127.5" stroke="#999" stroke-width="0.9"/>
<line x1="390.8" x2="390.8" y1="1123.5" y2="1127.5" stroke="#999" stroke-width="0.9"/>
<line x1="395.0" x2="395.0" y1="1123.5" y2="1127.5" stroke="#999" stroke-width="0.9"/>
<line x1="399.2" x2="399.2" y1="1123.5" y2="1127.5" stroke="#999" stroke-width="0.9"/>
<line x1="403.4" x2="403.4" y1="1123.5" y2="1127.5" stroke="#999" stroke-width="0.9"/>
<line x1="407.6" x2="407.6" y1="1123.5" y2="1127.5" stroke="#999" stroke-width="0.9"/>
<line x1="411.8" x2="411.8" y1="1123.5" y2="1127.5" stroke="#999" stroke-width="0.9"/>
<line x1="416.0" x2="416.0" y1="1123.5" y2="1127.5" stroke="#999" stroke-width="0.9"/>
<line x1="420.1" x2="420.1" y1="1123.5" y2="1127.5" stroke="#999" stroke-width="0.9"/>
<line x1="424.3" x2="424.3" y1="1123.5" y2="1127.5" stroke="#999" stroke-width="0.9"/>
<line x1="428.5" x2="428.5" y1="1123.5" y2="1127.5" stroke="#999" stroke-width="0.9"/>
<line x1="432.7" x2="432.7" y1="1123.5" y2="1127.5" stroke="#999" stroke-width="0.9"/>
<line x1="436.9" x2="436.9" y1="1123.5" y2="1127.5" stroke="#999" stroke-width="0.9"/>
<line x1="441.1" x2="441.1" y1="1123.5" y2="1127.5" stroke="#999" stroke-width="0.9"/>
<line x1="445.3" x2="445.3" y1="1123.5" y2="1127.5" stroke="#999" stroke-width="0.9"/>
<line x1="449.5" x2="449.5" y1="1123.5" y2="1127.5" stroke="#999" stroke-width="0.9"/>
<line x1="453.7" x2="453.7" y1="1123.5" y2="1127.5" stroke="#999" stroke-width="0.9"/>
<line x1="457.9" x2="457.9" y1="1123.5" y2="1127.5" stroke="#999" stroke-width="0.9"/>
<line x1="462.1" x2="462.1" y1="1123.5" y2="1127.5" stroke="#999" stroke-width="0.9"/>
<line x1="466.3" x2="466.3" y1="1123.5" y2="1127.5" stroke="#999" stroke-width="0.9"/>
<line x1="470.5" x2="470.5" y1="1123.5" y2="1127.5" stroke="#999" stroke-width="0.9"/>
<line x1="474.7" x2="474.7" y1="1123.5" y2="1127.5" stroke="#999" stroke-width="0.9"/>
<line x1="478.9" x2="478.9" y1="1123.5" y2="1127.5" stroke="#999" stroke-width="0.9"/>
<line x1="483.1" x2="483.1" y1="1123.5" y2="1127.5" stroke="#999" stroke-width="0.9"/>
<line x1="487.3" x2="487.3" y1="1123.5" y2="1127.5" stroke="#999" stroke-width="0.9"/>
<line x1="491.5" x2="491.5" y1="1123.5" y2="1127.5" stroke="#999" stroke-width="0.9"/>
<line x1="495.7" x2="495.7" y1="1123.5" y2="1127.5" stroke="#999" stroke-width="0.9"/>
<line x1="499.9" x2="499.9" y1="1123.5" y2="1127.5" stroke="#999" stroke-width="0.9"/>
<line x1="504.1" x2="504.1" y1="1123.5" y2="1127.5" stroke="#999" stroke-width="0.9"/>
<line x1="508.3" x2="508.3" y1="1123.5" y2="1127.5" stroke="#999" stroke-width="0.9"/>
<line x1="512.5" x2="512.5" y1="1123.5" y2="1127.5" stroke="#999" stroke-width="0.9"/>
<line x1="516.7" x2="516.7" y1="1123.5" y2="1127.5" stroke="#999" stroke-width="0.9"/>
<line x1="520.9" x2="520.9" y1="1123.5" y2="1127.5" stroke="#999" stroke-width="0.9"/>
<line x1="525.1" x2="525.1" y1="1123.5" y2="1127.5" stroke="#999" stroke-width="0.9"/>
<line x1="529.2" x2="529.2" y1="1123.5" y2="1127.5" stroke="#999" stroke-width="0.9"/>
<line x1="533.4" x2="533.4" y1="1123.5" y2="1127.5" stroke="#999" stroke-width="0.9"/>
<line x1="537.6" x2="537.6" y1="1123.5" y2="1127.5" stroke="#999" stroke-width="0.9"/>
<line x1="541.8" x2="541.8" y1="1123.5" y2="1127.5" stroke="#999" stroke-width="0.9"/>
<line x1="546.0" x2="546.0" y1="1123.5" y2="1127.5" stroke="#999" stroke-width="0.9"/>
<line x1="550.2" x2="550.2" y1="1123.5" y2="1127.5" stroke="#999" stroke-width="0.9"/>
<line x1="554.4" x2="554.4" y1="1123.5" y2="1127.5" stroke="#999" stroke-width="0.9"/>
<line x1="558.6" x2="558.6" y1="1123.5" y2="1127.5" stroke="#999" stroke-width="0.9"/>
<line x1="562.8" x2="562.8" y1="1123.5" y2="1127.5" stroke="#999" stroke-width="0.9"/>
<line x1="567.0" x2="567.0" y1="1123.5" y2="1127.5" stroke="#999" stroke-width="0.9"/>
<line x1="571.2" x2="571.2" y1="1123.5" y2="1127.5" stroke="#999" stroke-width="0.9"/>
<line x1="575.4" x2="575.4" y1="1123.5" y2="1127.5" stroke="#999" stroke-width="0.9"/>
<line x1="579.6" x2="579.6" y1="1123.5" y2="1127.5" stroke="#999" stroke-width="0.9"/>
<line x1="583.8" x2="583.8" y1="1123.5" y2="1127.5" stroke="#999" stroke-width="0.9"/>
<line x1="588.0" x2="588.0" y1="1123.5" y2="1127.5" stroke="#999" stroke-width="0.9"/>
<line x1="592.2" x2="592.2" y1="1123.5" y2="1127.5" stroke="#999" stroke-width="0.9"/>
<line x1="596.4" x2="596.4" y1="1123.5" y2="1127.5" stroke="#999" stroke-width="0.9"/>
<line x1="600.6" x2="600.6" y1="1123.5" y2="1127.5" stroke="#999" stroke-width="0.9"/>
<line x1="604.8" x2="604.8" y1="1123.5" y2="1127.5" stroke="#999" stroke-width="0.9"/>
<line x1="609.0" x2="609.0" y1="1123.5" y2="1127.5" stroke="#999" stroke-width="0.9"/>
<line x1="613.2" x2="613.2" y1="1123.5" y2="1127.5" stroke="#999" stroke-width="0.9"/>
<line x1="617.4" x2="617.4" y1="1123.5" y2="1127.5" stroke="#999" stroke-width="0.9"/>
<line x1="621.6" x2="621.6" y1="1123.5" y2="1127.5" stroke="#999" stroke-width="0.9"/>
<line x1="625.8" x2="625.8" y1="1123.5" y2="1127.5" stroke="#999" stroke-width="0.9"/>
<line x1="630.0" x2="630.0" y1="1123.5" y2="1127.5" stroke="#999" stroke-width="0.9"/>
<line x1="634.1" x2="634.1" y1="1123.5" y2="1127.5" stroke="#999" stroke-width="0.9"/>
<line x1="638.3" x2="638.3" y1="1123.5" y2="1127.5" stroke="#999" stroke-width="0.9"/>
<line x1="642.5" x2="642.5" y1="1123.5" y2="1127.5" stroke="#999" stroke-width="0.9"/>
<line x1="646.7" x2="646.7" y1="1123.5" y2="1127.5" stroke="#999" stroke-width="0.9"/>
<line x1="650.9" x2="650.9" y1="1123.5" y2="1127.5" stroke="#999" stroke-width="0.9"/>
<line x1="655.1" x2="655.1" y1="1123.5" y2="1127.5" stroke="#999" stroke-width="0.9"/>
<line x1="659.3" x2="659.3" y1="1123.5" y2="1127.5" stroke="#999" stroke-width="0.9"/>
<line x1="663.5" x2="663.5" y1="1123.5" y2="1127.5" stroke="#999" stroke-width="0.9"/>
<line x1="667.7" x2="667.7" y1="1123.5" y2="1127.5" stroke="#999" stroke-width="0.9"/>
<line x1="671.9" x2="671.9" y1="1123.5" y2="1127.5" stroke="#999" stroke-width="0.9"/>
<line x1="676.1" x2="676.1" y1="1123.5" y2="1127.5" stroke="#999" stroke-width="0.9"/>
<line x1="680.3" x2="680.3" y1="1123.5" y2="1127.5" stroke="#999" stroke-width="0.9"/>
<line x1="684.5" x2="684.5" y1="1123.5" y2="1127.5" stroke="#999" stroke-width="0.9"/>
<line x1="688.7" x2="688.7" y1="1123.5" y2="1127.5" stroke="#999" stroke-width="0.9"/>
<line x1="692.9" x2="692.9" y1="1123.5" y2="1127.5" stroke="#999" stroke-width="0.9"/>
<line x1="697.1" x2="697.1" y1="1123.5" y2="1127.5" stroke="#999" stroke-width="0.9"/>
<line x1="701.3" x2="701.3" y1="1123.5" y2="1127.5" stroke="#999" stroke-width="0.9"/>
<line x1="705.5" x2="705.5" y1="1123.5" y2="1127.5" stroke="#999" stroke-width="0.9"/>
<line x1="709.7" x2="709.7" y1="1123.5" y2="1127.5" stroke="#999" stroke-width="0.9"/>
<line x1="713.9" x2="713.9" y1="1123.5" y2="1127.5" stroke="#999" stroke-width="0.9"/>
<line x1="718.1" x2="718.1" y1="1123.5" y2="1127.5" stroke="#999" stroke-width="0.9"/>
<line x1="722.3" x2="722.3" y1="1123.5" y2="1127.5" stroke="#999" stroke-width="0.9"/>
<line x1="726.5" x2="726.5" y1="1123.5" y2="1127.5" stroke="#999" stroke-width="0.9"/>
<line x1="730.7" x2="730.7" y1="1123.5" y2="1127.5" stroke="#999" stroke-width="0.9"/>
<line x1="734.9" x2="734.9" y1="1123.5" y2="1127.5" stroke="#999" stroke-width="0.9"/>
<line x1="739.1" x2="739.1" y1="1123.5" y2="1127.5" stroke="#999" stroke-width="0.9"/>
<line x1="743.2" x2="743.2" y1="1123.5" y2="1127.5" stroke="#999" stroke-width="0.9"/>
<line x1="747.4" x2="747.4" y1="1123.5" y2="1127.5" stroke="#999" stroke-width="0.9"/>
<line x1="751.6" x2="751.6" y1="1123.5" y2="1127.5" stroke="#999" stroke-width="0.9"/>
<line x1="755.8" x2="755.8" y1="1123.5" y2="1127.5" stroke="#999" stroke-width="0.9"/>
<line x1="760.0" x2="760.0" y1="1123.5" y2="1127.5" stroke="#999" stroke-width="0.9"/>
<line x1="764.2" x2="764.2" y1="1123.5" y2="1127.5" stroke="#999" stroke-width="0.9"/>
<line x1="768.4" x2="768.4" y1="1123.5" y2="1127.5" stroke="#999" stroke-width="0.9"/>
<line x1="772.6" x2="772.6" y1="1123.5" y2="1127.5" stroke="#999" stroke-width="0.9"/>
<line x1="776.8" x2="776.8" y1="1123.5" y2="1127.5" stroke="#999" stroke-width="0.9"/>
<line x1="781.0" x2="781.0" y1="1123.5" y2="1127.5" stroke="#999" stroke-width="0.9"/>
<line x1="785.2" x2="785.2" y1="1123.5" y2="1127.5" stroke="#999" stroke-width="0.9"/>
<line x1="789.4" x2="789.4" y1="1123.5" y2="1127.5" stroke="#999" stroke-width="0.9"/>
<line x1="793.6" x2="793.6" y1="1123.5" y2="1127.5" stroke="#999" stroke-width="0.9"/>
</svg>
<div class="t" style="left:0;width:32px;text-align:right;top:1114.4px;font-size:10.8px;line-height:14px;color:#333;letter-spacing:-0.2px">30.0</div>
<div class="t" style="left:0;width:32px;text-align:right;top:1099.0px;font-size:10.8px;line-height:14px;color:#333;letter-spacing:-0.2px">31.0</div>
<div class="t" style="left:0;width:32px;text-align:right;top:1083.6px;font-size:10.8px;line-height:14px;color:#333;letter-spacing:-0.2px">32.0</div>
<div class="t" style="left:0;width:32px;text-align:right;top:1068.2px;font-size:10.8px;line-height:14px;color:#333;letter-spacing:-0.2px">33.0</div>
<div class="t" style="left:0;width:32px;text-align:right;top:1052.8px;font-size:10.8px;line-height:14px;color:#333;letter-spacing:-0.2px">34.0</div>
<div class="t" style="left:0;width:32px;text-align:right;top:1037.3px;font-size:10.8px;line-height:14px;color:#333;letter-spacing:-0.2px">35.0</div>
<div class="t" style="left:0;width:32px;text-align:right;top:1021.9px;font-size:10.8px;line-height:14px;color:#333;letter-spacing:-0.2px">36.0</div>
<div class="t" style="left:0;width:32px;text-align:right;top:1006.5px;font-size:10.8px;line-height:14px;color:#333;letter-spacing:-0.2px">37.0</div>
<div class="t" style="left:0;width:32px;text-align:right;top:991.1px;font-size:10.8px;line-height:14px;color:#333;letter-spacing:-0.2px">38.0</div>
<div class="t" style="left:0;width:32px;text-align:right;top:975.7px;font-size:10.8px;line-height:14px;color:#333;letter-spacing:-0.2px">39.0</div>
<div class="t" style="left:46.4px;top:1172px;width:42px;font-size:9.5px;line-height:10px;color:#666;transform-origin:0 0;transform:rotate(-90deg)">09908201</div>
<div class="t" style="left:59.0px;top:1172px;width:42px;font-size:9.5px;line-height:10px;color:#666;transform-origin:0 0;transform:rotate(-90deg)">09908204</div>
<div class="t" style="left:71.5px;top:1172px;width:42px;font-size:9.5px;line-height:10px;color:#666;transform-origin:0 0;transform:rotate(-90deg)">09908207</div>
<div class="t" style="left:84.1px;top:1172px;width:42px;font-size:9.5px;line-height:10px;color:#666;transform-origin:0 0;transform:rotate(-90deg)">09908302</div>
<div class="t" style="left:96.6px;top:1172px;width:42px;font-size:9.5px;line-height:10px;color:#666;transform-origin:0 0;transform:rotate(-90deg)">09908305</div>
<div class="t" style="left:109.2px;top:1172px;width:42px;font-size:9.5px;line-height:10px;color:#666;transform-origin:0 0;transform:rotate(-90deg)">09908308</div>
<div class="t" style="left:121.7px;top:1172px;width:42px;font-size:9.5px;line-height:10px;color:#666;transform-origin:0 0;transform:rotate(-90deg)">09908403</div>
<div class="t" style="left:134.3px;top:1172px;width:42px;font-size:9.5px;line-height:10px;color:#666;transform-origin:0 0;transform:rotate(-90deg)">09908406</div>
<div class="t" style="left:146.8px;top:1172px;width:42px;font-size:9.5px;line-height:10px;color:#666;transform-origin:0 0;transform:rotate(-90deg)">09908501</div>
<div class="t" style="left:159.4px;top:1172px;width:42px;font-size:9.5px;line-height:10px;color:#666;transform-origin:0 0;transform:rotate(-90deg)">09908504</div>
<div class="t" style="left:171.9px;top:1172px;width:42px;font-size:9.5px;line-height:10px;color:#666;transform-origin:0 0;transform:rotate(-90deg)">09908507</div>
<div class="t" style="left:184.5px;top:1172px;width:42px;font-size:9.5px;line-height:10px;color:#666;transform-origin:0 0;transform:rotate(-90deg)">09908602</div>
<div class="t" style="left:197.0px;top:1172px;width:42px;font-size:9.5px;line-height:10px;color:#666;transform-origin:0 0;transform:rotate(-90deg)">09908605</div>
<div class="t" style="left:209.6px;top:1172px;width:42px;font-size:9.5px;line-height:10px;color:#666;transform-origin:0 0;transform:rotate(-90deg)">09908608</div>
<div class="t" style="left:222.1px;top:1172px;width:42px;font-size:9.5px;line-height:10px;color:#666;transform-origin:0 0;transform:rotate(-90deg)">09908703</div>
<div class="t" style="left:234.7px;top:1172px;width:42px;font-size:9.5px;line-height:10px;color:#666;transform-origin:0 0;transform:rotate(-90deg)">09908706</div>
<div class="t" style="left:247.2px;top:1172px;width:42px;font-size:9.5px;line-height:10px;color:#666;transform-origin:0 0;transform:rotate(-90deg)">09908801</div>
<div class="t" style="left:259.8px;top:1172px;width:42px;font-size:9.5px;line-height:10px;color:#666;transform-origin:0 0;transform:rotate(-90deg)">09908804</div>
<div class="t" style="left:272.3px;top:1172px;width:42px;font-size:9.5px;line-height:10px;color:#666;transform-origin:0 0;transform:rotate(-90deg)">09908806</div>
<div class="t" style="left:284.9px;top:1172px;width:42px;font-size:9.5px;line-height:10px;color:#666;transform-origin:0 0;transform:rotate(-90deg)">09908808</div>
<div class="t" style="left:297.4px;top:1172px;width:42px;font-size:9.5px;line-height:10px;color:#666;transform-origin:0 0;transform:rotate(-90deg)">09908903</div>
<div class="t" style="left:310.0px;top:1172px;width:42px;font-size:9.5px;line-height:10px;color:#666;transform-origin:0 0;transform:rotate(-90deg)">09908906</div>
<div class="t" style="left:322.5px;top:1172px;width:42px;font-size:9.5px;line-height:10px;color:#666;transform-origin:0 0;transform:rotate(-90deg)">09909001</div>
<div class="t" style="left:335.1px;top:1172px;width:42px;font-size:9.5px;line-height:10px;color:#666;transform-origin:0 0;transform:rotate(-90deg)">09909004</div>
<div class="t" style="left:347.6px;top:1172px;width:42px;font-size:9.5px;line-height:10px;color:#666;transform-origin:0 0;transform:rotate(-90deg)">09909007</div>
<div class="t" style="left:360.2px;top:1172px;width:42px;font-size:9.5px;line-height:10px;color:#666;transform-origin:0 0;transform:rotate(-90deg)">09909102</div>
<div class="t" style="left:372.7px;top:1172px;width:42px;font-size:9.5px;line-height:10px;color:#666;transform-origin:0 0;transform:rotate(-90deg)">09909105</div>
<div class="t" style="left:385.3px;top:1172px;width:42px;font-size:9.5px;line-height:10px;color:#666;transform-origin:0 0;transform:rotate(-90deg)">09909104</div>
<div class="t" style="left:397.8px;top:1172px;width:42px;font-size:9.5px;line-height:10px;color:#666;transform-origin:0 0;transform:rotate(-90deg)">09909107</div>
<div class="t" style="left:410.4px;top:1172px;width:42px;font-size:9.5px;line-height:10px;color:#666;transform-origin:0 0;transform:rotate(-90deg)">09909202</div>
<div class="t" style="left:422.9px;top:1172px;width:42px;font-size:9.5px;line-height:10px;color:#666;transform-origin:0 0;transform:rotate(-90deg)">09909205</div>
<div class="t" style="left:435.5px;top:1172px;width:42px;font-size:9.5px;line-height:10px;color:#666;transform-origin:0 0;transform:rotate(-90deg)">09909301</div>
<div class="t" style="left:448.0px;top:1172px;width:42px;font-size:9.5px;line-height:10px;color:#666;transform-origin:0 0;transform:rotate(-90deg)">09909304</div>
<div class="t" style="left:460.6px;top:1172px;width:42px;font-size:9.5px;line-height:10px;color:#666;transform-origin:0 0;transform:rotate(-90deg)">09909307</div>
<div class="t" style="left:473.1px;top:1172px;width:42px;font-size:9.5px;line-height:10px;color:#666;transform-origin:0 0;transform:rotate(-90deg)">09909402</div>
<div class="t" style="left:485.7px;top:1172px;width:42px;font-size:9.5px;line-height:10px;color:#666;transform-origin:0 0;transform:rotate(-90deg)">09909405</div>
<div class="t" style="left:498.2px;top:1172px;width:42px;font-size:9.5px;line-height:10px;color:#666;transform-origin:0 0;transform:rotate(-90deg)">09909502</div>
<div class="t" style="left:510.8px;top:1172px;width:42px;font-size:9.5px;line-height:10px;color:#666;transform-origin:0 0;transform:rotate(-90deg)">09909505</div>
<div class="t" style="left:523.3px;top:1172px;width:42px;font-size:9.5px;line-height:10px;color:#666;transform-origin:0 0;transform:rotate(-90deg)">09909602</div>
<div class="t" style="left:535.9px;top:1172px;width:42px;font-size:9.5px;line-height:10px;color:#666;transform-origin:0 0;transform:rotate(-90deg)">09909601</div>
<div class="t" style="left:548.4px;top:1172px;width:42px;font-size:9.5px;line-height:10px;color:#666;transform-origin:0 0;transform:rotate(-90deg)">09909604</div>
<div class="t" style="left:561.0px;top:1172px;width:42px;font-size:9.5px;line-height:10px;color:#666;transform-origin:0 0;transform:rotate(-90deg)">09909607</div>
<div class="t" style="left:573.5px;top:1172px;width:42px;font-size:9.5px;line-height:10px;color:#666;transform-origin:0 0;transform:rotate(-90deg)">09909702</div>
<div class="t" style="left:586.1px;top:1172px;width:42px;font-size:9.5px;line-height:10px;color:#666;transform-origin:0 0;transform:rotate(-90deg)">09909705</div>
<div class="t" style="left:598.6px;top:1172px;width:42px;font-size:9.5px;line-height:10px;color:#666;transform-origin:0 0;transform:rotate(-90deg)">09909708</div>
<div class="t" style="left:611.2px;top:1172px;width:42px;font-size:9.5px;line-height:10px;color:#666;transform-origin:0 0;transform:rotate(-90deg)">09909803</div>
<div class="t" style="left:623.7px;top:1172px;width:42px;font-size:9.5px;line-height:10px;color:#666;transform-origin:0 0;transform:rotate(-90deg)">09909806</div>
<div class="t" style="left:636.3px;top:1172px;width:42px;font-size:9.5px;line-height:10px;color:#666;transform-origin:0 0;transform:rotate(-90deg)">09909901</div>
<div class="t" style="left:648.8px;top:1172px;width:42px;font-size:9.5px;line-height:10px;color:#666;transform-origin:0 0;transform:rotate(-90deg)">09909904</div>
<div class="t" style="left:661.4px;top:1172px;width:42px;font-size:9.5px;line-height:10px;color:#666;transform-origin:0 0;transform:rotate(-90deg)">09909907</div>
<div class="t" style="left:673.9px;top:1172px;width:42px;font-size:9.5px;line-height:10px;color:#666;transform-origin:0 0;transform:rotate(-90deg)">09910002</div>
<div class="t" style="left:686.5px;top:1172px;width:42px;font-size:9.5px;line-height:10px;color:#666;transform-origin:0 0;transform:rotate(-90deg)">09910005</div>
<div class="t" style="left:699.0px;top:1172px;width:42px;font-size:9.5px;line-height:10px;color:#666;transform-origin:0 0;transform:rotate(-90deg)">09910008</div>
<div class="t" style="left:711.6px;top:1172px;width:42px;font-size:9.5px;line-height:10px;color:#666;transform-origin:0 0;transform:rotate(-90deg)">09910103</div>
<div class="t" style="left:724.1px;top:1172px;width:42px;font-size:9.5px;line-height:10px;color:#666;transform-origin:0 0;transform:rotate(-90deg)">09910106</div>
<div class="t" style="left:736.7px;top:1172px;width:42px;font-size:9.5px;line-height:10px;color:#666;transform-origin:0 0;transform:rotate(-90deg)">09910201</div>
<div class="t" style="left:749.2px;top:1172px;width:42px;font-size:9.5px;line-height:10px;color:#666;transform-origin:0 0;transform:rotate(-90deg)">09910107</div>
<div class="t" style="left:761.8px;top:1172px;width:42px;font-size:9.5px;line-height:10px;color:#666;transform-origin:0 0;transform:rotate(-90deg)">09910202</div>
<div class="t" style="left:774.3px;top:1172px;width:42px;font-size:9.5px;line-height:10px;color:#666;transform-origin:0 0;transform:rotate(-90deg)">09910205</div>
<div class="t" style="left:786.9px;top:1172px;width:42px;font-size:9.5px;line-height:10px;color:#666;transform-origin:0 0;transform:rotate(-90deg)">09910208</div>
</body></html>
